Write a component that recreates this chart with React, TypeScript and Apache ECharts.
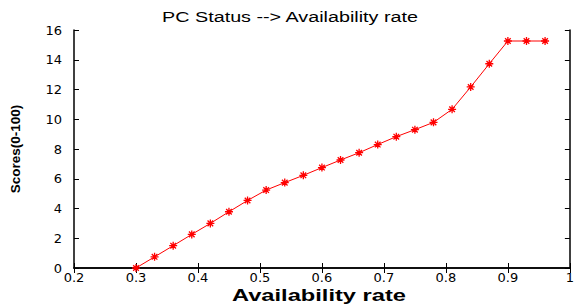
import React, { useEffect, useRef } from "react";
import * as echarts from "echarts";

const titleText = "PC Status --> Availability rate";
const xName = "Availability rate";
const yName = "Scores(0-100)";
const xValues = [0.3, 0.33, 0.36, 0.39, 0.42, 0.45, 0.48, 0.51, 0.54, 0.57, 0.6, 0.63, 0.66, 0.69, 0.72, 0.75, 0.78, 0.81, 0.84, 0.87, 0.9, 0.93, 0.96];
const yValues = [0, 0.75, 1.5, 2.26, 3.0, 3.78, 4.54, 5.24, 5.74, 6.23, 6.75, 7.26, 7.75, 8.3, 8.83, 9.3, 9.79, 10.67, 12.17, 13.73, 15.26, 15.26, 15.26];

const asterisk = "path://M0,5L10,5M5,0L5,10M1.5,1.5L8.5,8.5M8.5,1.5L1.5,8.5";

export default function App() {
  const ref = useRef<HTMLDivElement>(null);
  useEffect(() => {
    if (!ref.current) return;
    const chart = echarts.init(ref.current, null, { renderer: "svg" });
    const font = "'Liberation Sans', Arial, sans-serif";
    const tickFont = "'DejaVu Sans', sans-serif";
    const axisCommon = {
      axisLine: { show: true, lineStyle: { color: "#000", width: 1.5 } },
      axisTick: { show: true, inside: true, length: 5, lineStyle: { color: "#000" } },
      splitLine: { show: false },
    };
    chart.setOption({
      animation: false,
      backgroundColor: "#fff",
      graphic: [
        {
          type: "text",
          x: 290,
          y: 18,
          scaleX: 1.41,
          style: {
            text: titleText,
            font: `normal 14px ${font}`,
            fill: "#000",
            align: "center",
            verticalAlign: "middle",
          },
        },
        {
          type: "text",
          x: 319,
          y: 295,
          scaleX: 1.48,
          style: {
            text: xName,
            font: `bold 16px ${font}`,
            fill: "#000",
            align: "center",
            verticalAlign: "middle",
          },
        },
      ],
      grid: { left: 68, right: 2, top: 30, bottom: 40, containLabel: false },
      xAxis: [
        {
          type: "value",
          min: 0.2,
          max: 1,
          interval: 0.1,
          position: "bottom",
          ...axisCommon,
          axisLabel: {
            color: "#000",
            fontFamily: tickFont,
            fontSize: 13,
            margin: 3,
            formatter: (v: number) => (Math.abs(v - 1) < 1e-9 ? "1" : v.toFixed(1)),
          },
        },
        {
          type: "value",
          min: 0.2,
          max: 1,
          interval: 0.1,
          position: "top",
          ...axisCommon,
          axisLabel: { show: false },
        },
      ],
      yAxis: [
        {
          type: "value",
          min: 0,
          max: 16,
          interval: 2,
          position: "left",
          ...axisCommon,
          axisLabel: { color: "#000", fontFamily: tickFont, fontSize: 13, margin: 12 },
          name: yName,
          nameLocation: "middle",
          nameGap: 52,
          nameTextStyle: { fontFamily: font, fontSize: 13.5, fontWeight: "bold", color: "#000" },
        },
        {
          type: "value",
          min: 0,
          max: 16,
          interval: 2,
          position: "right",
          ...axisCommon,
          axisLabel: { show: false },
        },
      ],
      series: [
        {
          type: "line",
          data: xValues.map((x, i) => [x, yValues[i]]),
          lineStyle: { color: "#ff0000", width: 1 },
          symbol: asterisk,
          symbolSize: 8,
          itemStyle: { color: "none", borderColor: "#ff0000", borderWidth: 1.3 },
          emphasis: { disabled: true },
        },
      ],
    });
    return () => chart.dispose();
  }, []);
  return <div ref={ref} style={{ width: 577, height: 308, position: "absolute", left: 0, top: 0 }} />;
}
